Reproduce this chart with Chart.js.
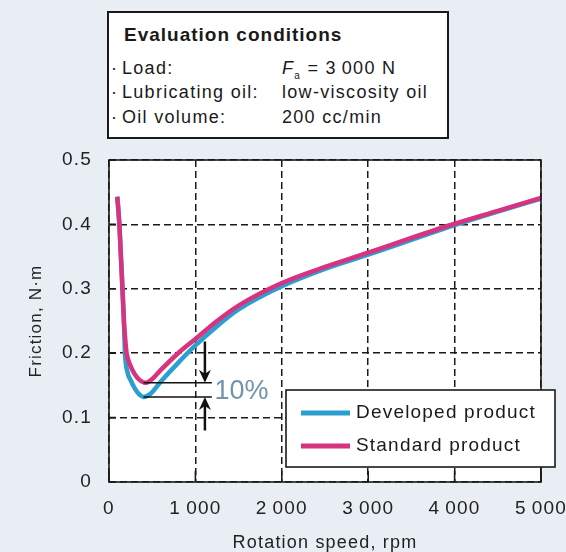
<!DOCTYPE html>
<html>
<head>
<meta charset="utf-8">
<script src="https://cdn.jsdelivr.net/npm/chart.js@4.4.0/dist/chart.umd.min.js"></script>
<style>
body{margin:0;background:#e9edf4;}
#wrap{position:relative;width:566px;height:552px;}
#cond{position:absolute;left:107px;top:11px;width:338px;height:124px;border:2px solid #1a1a1a;background:#fff;
  font-family:"Liberation Sans",Arial,sans-serif;color:#1a1a1a;}
#cond div{position:absolute;white-space:nowrap;font-size:18px;line-height:20px;letter-spacing:1.3px;}
#cond .t{font-weight:bold;letter-spacing:1px;font-size:19px;}
</style>
</head>
<body>
<div id="wrap">
<canvas id="chart" width="566" height="552"></canvas>
<div id="cond">
  <div class="t" style="left:15px;top:12px">Evaluation conditions</div>
  <div style="left:2px;top:45px">·</div><div style="left:13px;top:45px">Load:</div>
  <div style="left:173px;top:45px"><i>F</i><sub style="font-size:10px">a</sub> = 3&#8201;000 N</div>
  <div style="left:2px;top:69px">·</div><div style="left:13px;top:69px">Lubricating oil:</div>
  <div style="left:173px;top:69px">low-viscosity oil</div>
  <div style="left:2px;top:94px">·</div><div style="left:13px;top:94px">Oil volume:</div>
  <div style="left:173px;top:94px">200 cc/min</div>
</div>
</div>
<script>
// rotation speed (rpm) and friction (N·m)
var speedStd    = [96, 120, 138, 156, 174, 189, 204, 250, 300, 350, 420, 500, 600, 800, 1000, 1250, 1500, 2000, 2500, 3000, 3500, 4000, 4500, 5000];
var frictionStd = [0.443, 0.40, 0.35, 0.30, 0.247, 0.22, 0.20, 0.18, 0.167, 0.159, 0.154, 0.16, 0.174, 0.20, 0.222, 0.25, 0.274, 0.309, 0.334, 0.356, 0.379, 0.401, 0.421, 0.441];
var speedDev    = [96, 120, 138, 156, 172, 185, 215, 251, 300, 350, 400, 480, 600, 800, 1000, 1250, 1500, 2000, 2500, 3000, 3500, 4000, 4500, 5000];
var frictionDev = [0.443, 0.40, 0.35, 0.30, 0.25, 0.20, 0.17, 0.158, 0.145, 0.136, 0.132, 0.137, 0.156, 0.185, 0.212, 0.242, 0.268, 0.304, 0.331, 0.353, 0.376, 0.399, 0.42, 0.44];
var seriesNames = ["Developed product", "Standard product"];
var seriesColors = ["#2b9fd0", "#d8337f"];
var xTickLabels = ["0", "1\u2009000", "2\u2009000", "3\u2009000", "4\u2009000", "5\u2009000"];
var yTickLabels = ["0", "0.1", "0.2", "0.3", "0.4", "0.5"];

// 10 % gap annotation
var minStd = 0.154, minDev = 0.132;
var gapFrom = 400, gapTo = 1190, arrowAt = 1110;

var FONT = '"Liberation Sans", Arial, sans-serif';

function pts(xs, ys) {
  return xs.map(function (x, i) { return { x: x, y: ys[i] }; });
}

var framePlugin = {
  id: 'frame',
  beforeDraw: function (chart) {
    var a = chart.chartArea, ctx = chart.ctx;
    ctx.letterSpacing = '1.2px';
    ctx.save();
    ctx.fillStyle = '#fff';
    ctx.fillRect(a.left, a.top, a.right - a.left, a.bottom - a.top);
    ctx.restore();
  },
  afterDatasetsDraw: function (chart) {
    var a = chart.chartArea, ctx = chart.ctx;
    var xs = chart.scales.x, ys = chart.scales.y;
    ctx.save();
    ctx.strokeStyle = '#1a1a1a';
    ctx.lineWidth = 1.6;
    ctx.strokeRect(a.left, a.top, a.right - a.left, a.bottom - a.top);
    ctx.beginPath();
    xs.ticks.forEach(function (t) {
      var px = xs.getPixelForValue(t.value);
      ctx.moveTo(px, a.bottom); ctx.lineTo(px, a.bottom - 11);
    });
    ys.ticks.forEach(function (t) {
      var py = ys.getPixelForValue(t.value);
      ctx.moveTo(a.left, py); ctx.lineTo(a.left + 7, py);
    });
    ctx.stroke();

    // legend box
    var bx = a.right - 255, by = a.bottom - 92, bw = 269, bh = 77;
    ctx.fillStyle = '#fff';
    ctx.fillRect(bx, by, bw, bh);
    ctx.lineWidth = 1.6;
    ctx.strokeRect(bx, by, bw, bh);
    ctx.font = '19px ' + FONT;
    ctx.textBaseline = 'middle';
    ctx.fillStyle = '#1a1a1a';
    seriesNames.forEach(function (n, i) {
      var ly = by + 23 + i * 33;
      ctx.strokeStyle = seriesColors[i];
      ctx.lineWidth = 5;
      ctx.beginPath();
      ctx.moveTo(bx + 15, ly); ctx.lineTo(bx + 64, ly);
      ctx.stroke();
      ctx.fillText(n, bx + 70, ly);
    });

    // gap annotation
    var yS = ys.getPixelForValue(minStd), yD = ys.getPixelForValue(minDev);
    var x0 = xs.getPixelForValue(gapFrom), x1 = xs.getPixelForValue(gapTo);
    var xa = xs.getPixelForValue(arrowAt);
    ctx.strokeStyle = '#111';
    ctx.fillStyle = '#111';
    ctx.lineWidth = 1.5;
    ctx.beginPath();
    ctx.moveTo(x0, yS); ctx.lineTo(x1, yS);
    ctx.moveTo(x0, yD); ctx.lineTo(x1, yD);
    ctx.stroke();
    ctx.lineWidth = 2.5;
    ctx.beginPath();
    ctx.moveTo(xa, ys.getPixelForValue(0.218)); ctx.lineTo(xa, yS - 4);
    ctx.moveTo(xa, ys.getPixelForValue(0.08)); ctx.lineTo(xa, yD + 4);
    ctx.stroke();
    ctx.beginPath();
    ctx.moveTo(xa, yS); ctx.lineTo(xa - 6, yS - 13); ctx.lineTo(xa, yS - 9); ctx.lineTo(xa + 6, yS - 13); ctx.closePath();
    ctx.moveTo(xa, yD); ctx.lineTo(xa - 6, yD + 13); ctx.lineTo(xa, yD + 9); ctx.lineTo(xa + 6, yD + 13); ctx.closePath();
    ctx.fill();
    ctx.font = '27px ' + FONT;
    ctx.letterSpacing = '0px';
    ctx.fillStyle = '#7393ab';
    ctx.textAlign = 'left';
    ctx.textBaseline = 'middle';
    ctx.fillText('10%', xs.getPixelForValue(1220), ys.getPixelForValue((minStd + minDev) / 2) + 2);
    ctx.restore();
  }
};

new Chart('chart', {
  type: 'line',
  data: {
    datasets: [{
      label: seriesNames[0],
      data: pts(speedDev, frictionDev),
      borderColor: seriesColors[0],
      borderWidth: 4.5,
      order: 2
    }, {
      label: seriesNames[1],
      data: pts(speedStd, frictionStd),
      borderColor: seriesColors[1],
      borderWidth: 4.5,
      order: 1
    }]
  },
  options: {
    responsive: false,
    animation: false,
    devicePixelRatio: 1,
    layout: { padding: { top: 160, right: 0, left: 0, bottom: 0 } },
    elements: {
      point: { radius: 0 },
      line: { cubicInterpolationMode: 'monotone', fill: false }
    },
    plugins: { legend: { display: false }, tooltip: { enabled: false } },
    scales: {
      x: {
        type: 'linear', min: 0, max: 5000,
        afterFit: function (s) { s.height = 70; s.paddingRight = 25; s.paddingLeft = 20; },
        ticks: {
          stepSize: 1000, padding: 15, color: '#222',
          font: { family: FONT, size: 19 },
          callback: function (v, i) { return xTickLabels[i]; }
        },
        grid: { color: '#1a1a1a', lineWidth: 1.5, drawTicks: false },
        border: { display: false, dash: [7, 4] },
        title: { display: true, text: 'Rotation speed, rpm', color: '#222',
          font: { family: FONT, size: 18 }, padding: { top: 0, bottom: -2 } }
      },
      y: {
        min: 0, max: 0.5,
        afterFit: function (s) { s.width = 109; },
        ticks: {
          stepSize: 0.1, padding: 17, color: '#222',
          font: { family: FONT, size: 19 },
          callback: function (v, i) { return yTickLabels[i]; }
        },
        grid: { color: '#1a1a1a', lineWidth: 1.5, drawTicks: false },
        border: { display: false, dash: [7, 4] },
        title: { display: true, text: 'Friction, N·m', color: '#222',
          font: { family: FONT, size: 17 }, padding: { top: 26, bottom: 0 } }
      }
    }
  },
  plugins: [framePlugin]
});
</script>
</body>
</html>
